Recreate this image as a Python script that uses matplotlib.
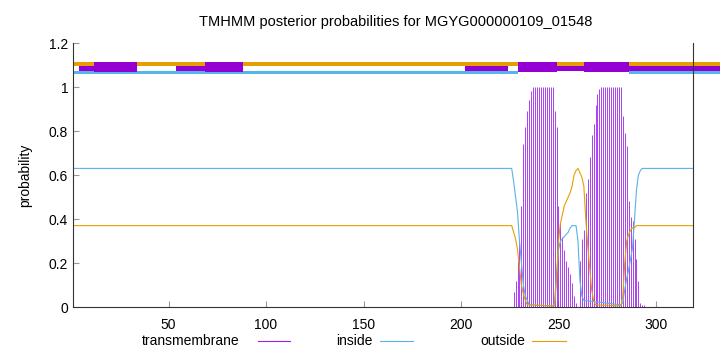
import matplotlib
matplotlib.use("Agg")
import matplotlib.pyplot as plt

plt.rcParams['font.family'] = ['Liberation Sans', 'DejaVu Sans']

# inside / outside probability curves (residue, probability)
inside_x = [1, 226, 227, 228, 229, 230, 231, 232, 233, 234, 235, 247, 248, 249, 250, 251,
            252, 253, 254, 255, 256, 257, 258, 259, 260, 261, 262, 263, 282, 283, 284, 285,
            286, 287, 288, 289, 290, 291, 292, 293, 319]
inside_y = [0.63, 0.63, 0.57, 0.50, 0.43, 0.30, 0.20, 0.10, 0.05, 0.03, 0.01, 0.005, 0.02, 0.15, 0.26, 0.30,
            0.31, 0.32, 0.33, 0.34, 0.36, 0.37, 0.37, 0.37, 0.30, 0.12, 0.05, 0.03, 0.01, 0.02, 0.08, 0.13,
            0.17, 0.22, 0.27, 0.40, 0.53, 0.60, 0.62, 0.63, 0.63]

outside_x = [1, 226, 227, 228, 229, 230, 231, 232, 233, 234, 248, 249, 250, 251, 252, 253,
             254, 255, 256, 257, 258, 259, 260, 261, 262, 263, 264, 265, 266, 267, 268, 269,
             282, 283, 284, 285, 286, 287, 288, 289, 290, 319]
outside_y = [0.37, 0.37, 0.34, 0.31, 0.26, 0.18, 0.10, 0.06, 0.03, 0.01, 0.005, 0.12, 0.30, 0.38, 0.42, 0.46,
             0.48, 0.50, 0.52, 0.55, 0.60, 0.62, 0.63, 0.61, 0.59, 0.55, 0.40, 0.28, 0.18, 0.08, 0.03, 0.01,
             0.005, 0.05, 0.20, 0.30, 0.33, 0.35, 0.36, 0.36, 0.37, 0.37]

# transmembrane probability, one impulse per residue
tm_x = list(range(227, 295))
tm_y = [0.07, 0.12, 0.21, 0.30, 0.46, 0.74, 0.82, 0.89, 0.94, 0.98,
        1.0, 1.0, 1.0, 1.0, 1.0, 1.0, 1.0, 1.0, 1.0, 1.0, 1.0,
        0.89, 0.82, 0.46, 0.38, 0.32, 0.26, 0.21, 0.18, 0.15, 0.11, 0.05, 0.02,
        0.0,
        0.21, 0.31, 0.35, 0.52, 0.58, 0.68, 0.78, 0.83, 0.92, 0.97, 0.99,
        1.0, 1.0, 1.0, 1.0, 1.0, 1.0, 1.0, 1.0, 1.0, 1.0, 1.0,
        0.87, 0.79, 0.73, 0.48, 0.41, 0.39, 0.31, 0.22, 0.12, 0.02, 0.01, 0.01]

# topology bars at the top: (start, length)
outside_bar = [(1, 332)]
inside_bar = [(1, 228), (286, 47)]
tm_thin = [(4.3, 7.7), (54, 14.5), (202, 22), (249, 14), (286, 47)]
tm_thick = [(12, 22), (68.5, 19.5), (229, 20), (263, 23)]

xticks = [50, 100, 150, 200, 250, 300]
yticks = [0, 0.2, 0.4, 0.6, 0.8, 1.0, 1.2]
ytick_labels = ["0", "0.2", "0.4", "0.6", "0.8", "1", "1.2"]

c_tm = "#a020f0"
c_in = "#56b4e9"
c_out = "#e69f00"

fig = plt.figure(figsize=(7.2, 3.52), dpi=100)
ax = fig.add_axes([0.1014, 0.1278, 0.8611, 0.75])

# top bars
ax.broken_barh(outside_bar, (1.095, 0.02), facecolors=c_out, clip_on=False)
ax.broken_barh(inside_bar, (1.06, 0.014), facecolors=c_in, clip_on=False)
ax.broken_barh(tm_thin, (1.074, 0.021), facecolors="#9400d3", clip_on=False)
ax.broken_barh(tm_thick, (1.0695, 0.0425), facecolors="#9400d3", clip_on=False)

ax.vlines(tm_x, 0, tm_y, color=c_tm, lw=0.6)
ax.plot(inside_x, inside_y, color=c_in, lw=0.8)
ax.plot(outside_x, outside_y, color=c_out, lw=0.8)

ax.set_xlim(1, 319)
ax.set_ylim(0, 1.2)
ax.set_xticks(xticks)
ax.set_yticks(yticks)
ax.set_yticklabels(ytick_labels)
ax.tick_params(direction="in", length=4, labelsize=10, color="#999999")
ax.tick_params(axis="x", pad=8)
ax.spines["top"].set_visible(False)
for s in ["left", "bottom", "right"]:
    ax.spines[s].set_color("#333333")

ax.set_ylabel("probability", fontsize=10, labelpad=12)
ax.set_title("TMHMM posterior probabilities for MGYG000000109_01548", fontsize=10.5, pad=12, x=0.52)

# legend row under the axis
labels = [("transmembrane", c_tm, 0.333, 0.358, 0.403),
          ("inside", c_in, 0.518, 0.528, 0.574),
          ("outside", c_out, 0.729, 0.739, 0.786)]
for text, col, tx, l0, l1 in labels:
    fig.text(tx, 0.031, text, ha="right", va="center", fontsize=10)
    fig.add_artist(plt.Line2D([l0, l1], [0.031, 0.031], color=col, lw=0.8, transform=fig.transFigure))

plt.savefig("out.png", dpi=100)
